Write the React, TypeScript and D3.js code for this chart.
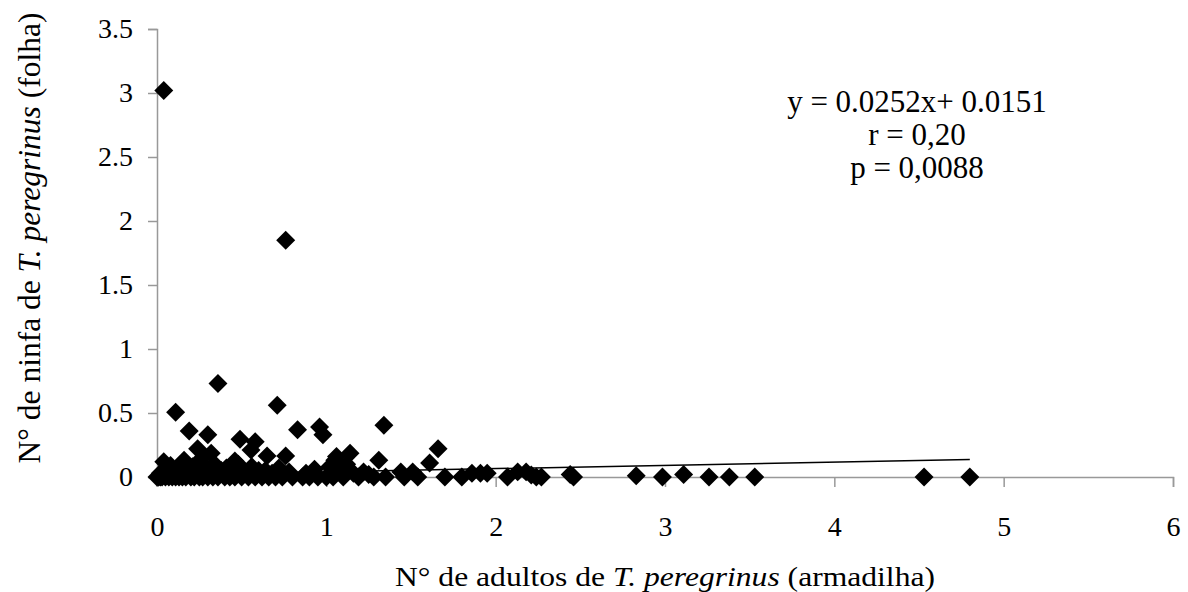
import React, { useEffect, useRef } from 'react'
import * as d3 from 'd3'

// tick values
const xTicks = [0, 1, 2, 3, 4, 5, 6]
const yTicks = [0, 0.5, 1, 1.5, 2, 2.5, 3, 3.5]

// adults per trap (x) vs nymphs per leaf (y)
const adultos = [
  0.04, 0.76, 0.36, 0.11, 0.71, 0.19, 0.3, 0.24, 0.32, 0.49, 0.58, 0.555, 0.65, 0.76, 0.46, 0.83, 0.96, 0.98, 1.05,
  1.34, 1.66, 1.61, 1.31, 1.14, 1.06, 1.07,
  0, 0.01, 0.02, 0.03, 0.05, 0.07, 0.09, 0.11, 0.13, 0.15, 0.17, 0.2, 0.22, 0.25, 0.27, 0.3, 0.33, 0.36, 0.4, 0.43,
  0.46, 0.5, 0.54, 0.58, 0.62, 0.66, 0.7, 0.74, 0.8, 0.86, 0.9, 0.95, 1.0, 1.04, 1.1, 1.19, 1.28, 1.35, 1.46, 1.54,
  1.7, 1.8, 2.07, 2.24, 2.27, 2.46, 2.985, 3.26, 3.38, 3.53, 4.53, 4.8,
  0.02, 0.05, 0.08, 0.12, 0.14, 0.18, 0.21, 0.24, 0.28, 0.31, 0.35, 0.38, 0.44, 0.52, 0.6, 0.68, 0.72, 0.78, 0.88,
  0.93, 1.02, 1.08, 1.12, 1.22, 1.44, 1.51, 1.86, 1.91, 1.95, 2.13, 2.18, 2.21, 2.44, 2.83, 3.11,
  0.04, 0.1, 0.16, 0.23, 0.26, 0.34, 0.41, 0.48, 0.56, 0.64, 1.16, 1.25
]
const ninfas = [
  3.02, 1.85, 0.73, 0.505, 0.56, 0.36, 0.33, 0.22, 0.185, 0.295, 0.275, 0.21, 0.165, 0.165, 0.125, 0.37, 0.39, 0.33, 0.13,
  0.405, 0.22, 0.11, 0.13, 0.185, 0.16, 0.07,
  0, 0, 0, 0, 0, 0, 0, 0, 0, 0, 0, 0, 0, 0, 0, 0, 0, 0, 0, 0,
  0, 0, 0, 0, 0, 0, 0, 0, 0, 0, 0, 0, 0, 0, 0, 0, 0, 0, 0, 0,
  0, 0, 0, 0, 0, 0, 0, 0, 0, 0, 0, 0,
  0.03, 0.06, 0.09, 0.07, 0.1, 0.05, 0.08, 0.04, 0.09, 0.06, 0.03, 0.05, 0.02, 0.04, 0.05, 0.03, 0.07, 0.04, 0.03,
  0.06, 0.08, 0.05, 0.1, 0.04, 0.04, 0.04, 0.03, 0.03, 0.03, 0.04, 0.04, 0.015, 0.02, 0.01, 0.02,
  0.12, 0.04, 0.13, 0.06, 0.14, 0.1, 0.07, 0.1, 0.08, 0.05, 0.03, 0.02
]

// regression from the figure
const slope = 0.0252
const intercept = 0.0151
const statLines = ['y = 0.0252x+ 0.0151', 'r = 0,20', 'p = 0,0088']

const W = 1188
const H = 592
const font = 'Liberation Serif, DejaVu Serif, serif'

export default function App () {
  const ref = useRef<SVGSVGElement>(null)

  useEffect(() => {
    const svg = d3.select(ref.current)
    svg.selectAll('*').remove()

    const x = d3.scaleLinear().domain([0, 6]).range([157, 1173])
    const y = d3.scaleLinear().domain([0, 3.5]).range([477, 29])

    const xAxis = svg.append('g')
      .attr('transform', `translate(0,${y(0)})`)
      .call(d3.axisBottom(x).tickValues(xTicks).tickSize(10).tickPadding(29).tickFormat(d3.format('')))
    const yAxis = svg.append('g')
      .attr('transform', `translate(${x(0)},0)`)
      .call(d3.axisLeft(y).tickValues(yTicks).tickSize(9).tickPadding(15).tickFormat(d3.format('')))

    for (const ax of [xAxis, yAxis]) {
      ax.attr('font-family', font).attr('font-size', 28)
      ax.select('.domain').attr('stroke', '#999').attr('stroke-width', 1.5)
      ax.selectAll('.tick line').attr('stroke', '#999').attr('stroke-width', 1.5)
      ax.selectAll('.tick text').attr('fill', '#000')
    }
    xAxis.selectAll('.tick text').attr('dy', '0.71em')

    // points
    const pts = adultos.map((a, i) => [a, ninfas[i]])
    const diamond = d3.symbol().type(d3.symbolSquare).size(180)
    svg.append('g')
      .selectAll('path')
      .data(pts)
      .join('path')
      .attr('d', diamond)
      .attr('fill', '#000')
      .attr('transform', d => `translate(${x(d[0])},${y(d[1])}) rotate(45)`)

    // trend line
    const xMax = d3.max(adultos) as number
    svg.append('path')
      .datum([0, xMax])
      .attr('fill', 'none')
      .attr('stroke', '#000')
      .attr('stroke-width', 1.5)
      .attr('d', d3.line<number>().x(d => x(d)).y(d => y(slope * d + intercept)))

    // equation block
    svg.append('g')
      .selectAll('text')
      .data(statLines)
      .join('text')
      .attr('x', 917)
      .attr('y', (d, i) => 112 + i * 33)
      .attr('text-anchor', 'middle')
      .attr('font-family', font)
      .attr('font-size', 31)
      .text(d => d)

    // axis titles
    const xt = svg.append('text')
      .attr('x', 665)
      .attr('y', 586)
      .attr('text-anchor', 'middle')
      .attr('font-family', font)
      .attr('font-size', 27)
      .attr('textLength', 540)
      .attr('lengthAdjust', 'spacingAndGlyphs')
    xt.append('tspan').text('N° de adultos de ')
    xt.append('tspan').attr('font-style', 'italic').text('T. peregrinus')
    xt.append('tspan').text(' (armadilha)')

    const yt = svg.append('text')
      .attr('transform', 'translate(40,238) rotate(-90)')
      .attr('text-anchor', 'middle')
      .attr('font-family', font)
      .attr('font-size', 31.5)
    yt.append('tspan').text('N° de ninfa de ')
    yt.append('tspan').attr('font-style', 'italic').text('T. peregrinus')
    yt.append('tspan').text(' (folha)')
  }, [])

  return (
    <svg ref={ref} width={W} height={H}
      style={{ position: 'absolute', left: 0, top: 0, background: '#fff' }} />
  )
}
